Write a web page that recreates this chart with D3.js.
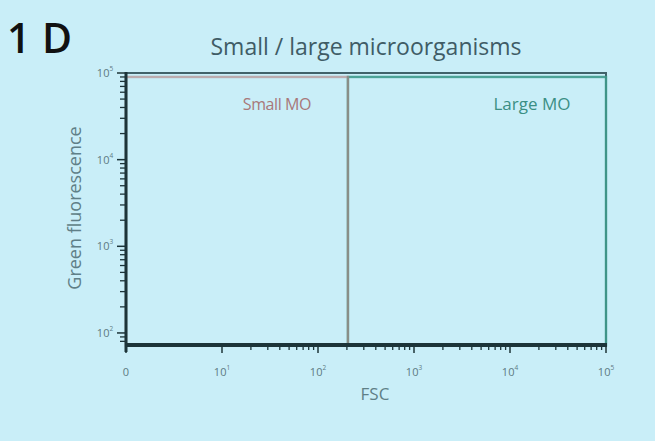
<!DOCTYPE html>
<html>
<head>
<meta charset="utf-8">
<script src="https://cdn.jsdelivr.net/npm/d3@7"></script>
<style>
  html, body { margin: 0; padding: 0; background: #c9eef8; }
  svg { display: block; }
  text { font-family: "Open Sans", "Noto Sans", sans-serif; }
</style>
</head>
<body>
<svg id="chart" width="655" height="441"></svg>
<script>
// Axis decades (log scale; the first decade is shown as "0")
const xDecades = [1, 10, 100, 1000, 10000, 100000];
const xBase = ["0", "10", "10", "10", "10", "10"];
const xExp = ["", "1", "2", "3", "4", "5"];
const yDecades = [100, 1000, 10000, 100000];
const yExp = ["2", "3", "4", "5"];

// Gate regions on FSC / green fluorescence
const gateNames = ["Small MO", "Large MO"];
const gateFscMin = [1, 205];
const gateFscMax = [205, 100000];
const gateGreenMin = [72, 72];
const gateGreenMax = [90000, 90000];

const gateColors = ["#b3807f", "#3f9a8c"];
const gateTextColors = ["#a8787a", "#3b8f84"];
const gateLabelX = [277, 532];

const svg = d3.select("#chart");
const plotLeft = 126, plotRight = 606, plotTop = 73, plotBottom = 345;

const x = d3.scaleLog().domain([1, 100000]).range([plotLeft, plotRight]);
const y = d3.scaleLog().domain([72.6, 100000]).range([plotBottom, plotTop]);

// Panel letter and title
svg.append("text").attr("x", 7).attr("y", 53)
  .attr("font-size", 41).attr("font-weight", 600).attr("fill", "#111")
  .attr("letter-spacing", 0.5)
  .text("1 D");
svg.append("text").attr("x", 366).attr("y", 55).attr("text-anchor", "middle")
  .attr("font-size", 23).attr("fill", "#3f5c66")
  .text("Small / large microorganisms");

// Plot frame (top and right)
svg.append("path")
  .attr("d", `M${plotLeft},${plotTop}H${plotRight}V${plotBottom}`)
  .attr("fill", "none").attr("stroke", "#41626a").attr("stroke-width", 2);

// Gates (large first so the shared edge blends)
const g = svg.append("g");
[1, 0].forEach(i => {
  const x0 = x(gateFscMin[i]), x1 = x(gateFscMax[i]);
  const y0 = y(gateGreenMax[i]), y1 = y(gateGreenMin[i]);
  g.append("rect")
    .attr("x", x0).attr("y", y0)
    .attr("width", x1 - x0).attr("height", y1 - y0)
    .attr("fill", "none").attr("stroke", gateColors[i])
    .attr("stroke-width", 2.4).attr("stroke-opacity", i === 0 ? 0.6 : 0.9);
  g.append("text")
    .attr("x", gateLabelX[i])
    .attr("y", 110).attr("text-anchor", "middle")
    .attr("font-size", i === 0 ? 16 : 17).attr("fill", gateTextColors[i])
    .attr("letter-spacing", i === 0 ? -0.4 : 0)
    .text(gateNames[i]);
});

// Minor tick values
function minors(lo, hi) {
  const out = [];
  for (let d = lo; d < hi; d *= 10)
    for (let k = 2; k <= 9; k++) out.push(d * k);
  return out;
}
const axisColor = "#1c3439";

// X axis
const xAxis = svg.append("g");
minors(10, 100000).forEach(v => {
  xAxis.append("line").attr("x1", x(v)).attr("x2", x(v))
    .attr("y1", plotBottom).attr("y2", plotBottom + 5)
    .attr("stroke", axisColor).attr("stroke-width", 1.3);
});
xDecades.forEach(v => {
  xAxis.append("line").attr("x1", x(v)).attr("x2", x(v))
    .attr("y1", plotBottom).attr("y2", plotBottom + 8)
    .attr("stroke", axisColor).attr("stroke-width", 1.5);
});
xAxis.append("line").attr("x1", plotLeft - 1).attr("x2", plotRight + 1)
  .attr("y1", plotBottom).attr("y2", plotBottom)
  .attr("stroke", axisColor).attr("stroke-width", 4);
xDecades.forEach((v, i) => {
  const t = xAxis.append("text").attr("x", x(v)).attr("y", 376)
    .attr("text-anchor", "middle").attr("font-size", 11).attr("fill", "#5d7a82");
  t.append("tspan").text(xBase[i]);
  if (xExp[i]) t.append("tspan").attr("dy", -6).attr("font-size", 6.5).text(xExp[i]);
});

// Y axis
const yAxis = svg.append("g");
minors(10, 100000).filter(v => v > 72.6).forEach(v => {
  yAxis.append("line").attr("x1", plotLeft - 6).attr("x2", plotLeft)
    .attr("y1", y(v)).attr("y2", y(v))
    .attr("stroke", axisColor).attr("stroke-width", 1.3);
});
yDecades.forEach(v => {
  yAxis.append("line").attr("x1", plotLeft - 9).attr("x2", plotLeft)
    .attr("y1", y(v)).attr("y2", y(v))
    .attr("stroke", axisColor).attr("stroke-width", 1.5);
});
yAxis.append("line").attr("x1", plotLeft).attr("x2", plotLeft)
  .attr("y1", plotTop - 1).attr("y2", plotBottom + 7)
  .attr("stroke", axisColor).attr("stroke-width", 3);
yDecades.forEach((v, i) => {
  const t = yAxis.append("text").attr("x", 105).attr("y", y(v) + 4)
    .attr("text-anchor", "middle").attr("font-size", 11).attr("fill", "#5d7a82");
  t.append("tspan").text("10");
  t.append("tspan").attr("dy", -6).attr("font-size", 6.5).text(yExp[i]);
});

// Axis titles
svg.append("text").attr("x", 375).attr("y", 400).attr("text-anchor", "middle")
  .attr("font-size", 17).attr("fill", "#5f7f87").text("FSC");
svg.append("text")
  .attr("transform", `translate(81,208) rotate(-90)`)
  .attr("text-anchor", "middle").attr("font-size", 18).attr("fill", "#5f7f87")
  .text("Green fluorescence");
</script>
</body>
</html>
